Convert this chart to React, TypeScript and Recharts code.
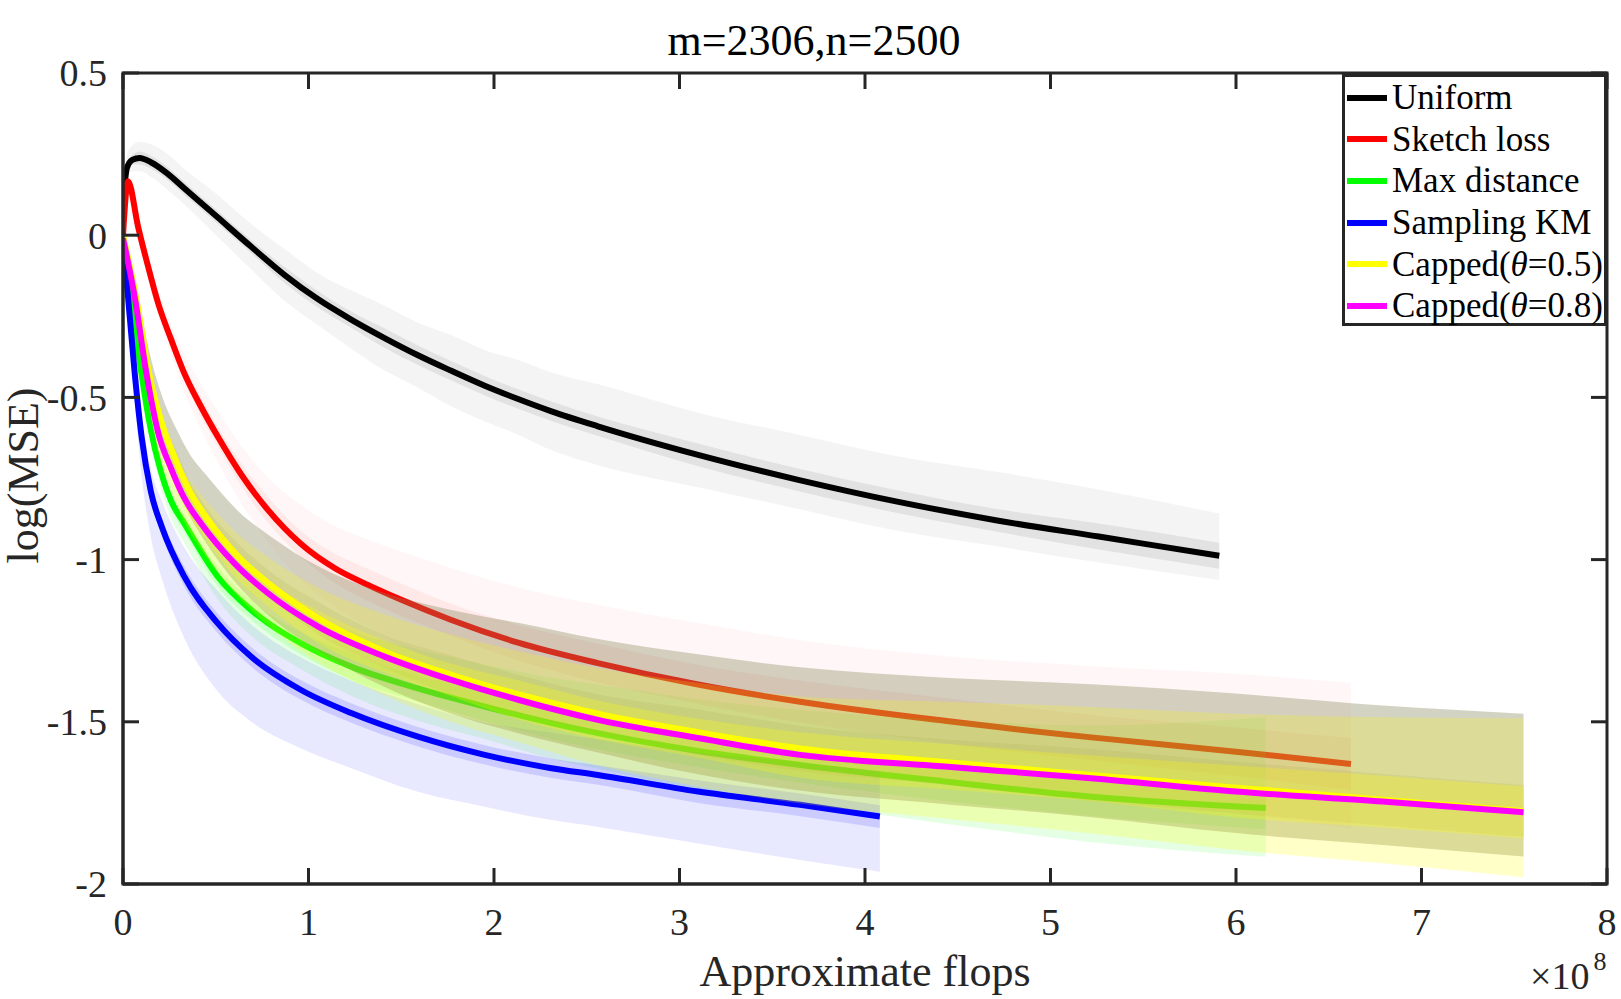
import React from "react";
import { ComposedChart, Line, Area, XAxis, YAxis, ReferenceArea } from "recharts";

const FONT = '"Liberation Serif", "Times New Roman", serif';
const AXIS = "#262626";

// chart box, in pixels
const W = 1621;
const H = 999;
const MARGIN = { top: 73, right: 14, bottom: 55, left: 23 };
const Y_AXIS_W = 100;
const X_AXIS_H = 60;
const PLOT_LEFT = MARGIN.left + Y_AXIS_W;
const PLOT_RIGHT = W - MARGIN.right;
const PLOT_TOP = MARGIN.top;
const PLOT_BOTTOM = H - MARGIN.bottom - X_AXIS_H;
const TICK_LEN = 16;

// x in units of 1e8 flops, y = log(MSE)
const uniformX = [0.01, 0.02, 0.05, 0.09, 0.15, 0.24, 0.33, 0.51, 0.69, 0.87, 1.05, 1.23, 1.41, 1.59, 1.77, 1.95, 2.13, 2.31, 2.56, 3.1, 3.64, 4.18, 4.72, 5.26, 5.91];
const uniformY = [0.16, 0.205, 0.232, 0.238, 0.225, 0.19, 0.145, 0.055, -0.035, -0.122, -0.197, -0.26, -0.317, -0.37, -0.418, -0.464, -0.505, -0.543, -0.589, -0.677, -0.754, -0.822, -0.88, -0.929, -0.988];
const uniformUp = [0.02, 0.04, 0.045, 0.05, 0.055, 0.06, 0.06, 0.07, 0.07, 0.08, 0.08, 0.09, 0.1, 0.1, 0.11, 0.11, 0.12, 0.12, 0.13, 0.13, 0.14, 0.14, 0.15, 0.145, 0.13];
const uniformDn = [0.02, 0.03, 0.035, 0.04, 0.045, 0.05, 0.05, 0.06, 0.07, 0.08, 0.08, 0.09, 0.1, 0.1, 0.11, 0.11, 0.11, 0.12, 0.12, 0.1, 0.09, 0.09, 0.08, 0.08, 0.075];
const uniformIn = [0.01, 0.01, 0.015, 0.02, 0.02, 0.02, 0.02, 0.02, 0.02, 0.025, 0.025, 0.025, 0.03, 0.03, 0.03, 0.03, 0.03, 0.03, 0.03, 0.035, 0.035, 0.035, 0.035, 0.04, 0.04];

const sketchX = [0, 0.027, 0.081, 0.135, 0.189, 0.26, 0.33, 0.42, 0.51, 0.64, 0.78, 0.96, 1.14, 1.32, 1.5, 1.77, 2.13, 2.56, 3.1, 3.65, 4.43, 5.22, 6.0, 6.62];
const sketchY = [0, 0.166, 0.027, -0.096, -0.209, -0.322, -0.425, -0.528, -0.62, -0.74, -0.846, -0.952, -1.026, -1.078, -1.124, -1.186, -1.256, -1.319, -1.385, -1.438, -1.497, -1.548, -1.592, -1.63];
const sketchUp = [0, 0.01, 0.02, 0.03, 0.04, 0.05, 0.06, 0.07, 0.08, 0.09, 0.1, 0.12, 0.13, 0.14, 0.15, 0.16, 0.17, 0.18, 0.19, 0.19, 0.2, 0.22, 0.24, 0.25];
const sketchDn = [0, 0.01, 0.02, 0.03, 0.04, 0.05, 0.06, 0.07, 0.08, 0.09, 0.1, 0.11, 0.12, 0.13, 0.14, 0.15, 0.16, 0.17, 0.17, 0.18, 0.18, 0.19, 0.19, 0.2];
const sketchIn = [0, 0.005, 0.01, 0.015, 0.02, 0.02, 0.025, 0.03, 0.03, 0.035, 0.04, 0.04, 0.045, 0.05, 0.05, 0.05, 0.055, 0.06, 0.06, 0.065, 0.07, 0.07, 0.075, 0.08];

const maxDistX = [0, 0.045, 0.099, 0.15, 0.2, 0.26, 0.33, 0.51, 0.69, 0.96, 1.23, 1.59, 1.95, 2.31, 2.56, 3.1, 3.65, 4.43, 5.22, 6.16];
const maxDistY = [-0.02, -0.19, -0.425, -0.6, -0.72, -0.82, -0.888, -1.052, -1.155, -1.258, -1.33, -1.397, -1.453, -1.504, -1.535, -1.59, -1.633, -1.684, -1.731, -1.766];
const maxDistUp = [0, 0.02, 0.04, 0.05, 0.06, 0.065, 0.07, 0.08, 0.09, 0.1, 0.11, 0.12, 0.13, 0.14, 0.15, 0.16, 0.17, 0.19, 0.22, 0.28];
const maxDistDn = [0, 0.02, 0.03, 0.04, 0.05, 0.055, 0.06, 0.07, 0.08, 0.08, 0.09, 0.1, 0.1, 0.11, 0.11, 0.12, 0.12, 0.13, 0.14, 0.15];
const maxDistIn = [0, 0.01, 0.015, 0.02, 0.02, 0.025, 0.025, 0.03, 0.03, 0.035, 0.04, 0.04, 0.045, 0.05, 0.05, 0.05, 0.055, 0.06, 0.06, 0.065];

const kmX = [0, 0.027, 0.063, 0.1, 0.15, 0.21, 0.33, 0.51, 0.69, 0.96, 1.23, 1.59, 1.95, 2.31, 2.56, 3.1, 3.65, 4.08];
const kmY = [-0.03, -0.19, -0.425, -0.62, -0.79, -0.9, -1.052, -1.196, -1.299, -1.402, -1.473, -1.546, -1.602, -1.643, -1.664, -1.715, -1.756, -1.792];
const kmUp = [0, 0.02, 0.04, 0.06, 0.07, 0.08, 0.09, 0.1, 0.1, 0.1, 0.1, 0.1, 0.1, 0.11, 0.11, 0.12, 0.13, 0.14];
const kmDn = [0, 0.04, 0.08, 0.12, 0.14, 0.16, 0.19, 0.21, 0.2, 0.18, 0.17, 0.17, 0.16, 0.16, 0.16, 0.16, 0.17, 0.17];
const kmIn = [0, 0.01, 0.015, 0.02, 0.02, 0.025, 0.03, 0.03, 0.03, 0.03, 0.03, 0.03, 0.03, 0.03, 0.03, 0.035, 0.035, 0.035];

// θ=0.5 carries the greyish band that reaches highest
const capped5X = [0, 0.07, 0.14, 0.21, 0.29, 0.36, 0.45, 0.62, 0.8, 1.05, 1.41, 1.77, 2.13, 2.56, 3.1, 3.65, 4.43, 5.22, 6.0, 6.79, 7.55];
const capped5Y = [0, -0.19, -0.425, -0.58, -0.7, -0.79, -0.87, -0.99, -1.08, -1.18, -1.283, -1.355, -1.415, -1.475, -1.532, -1.582, -1.624, -1.664, -1.703, -1.74, -1.775];
const capped5Up = [0, 0.04, 0.07, 0.085, 0.1, 0.115, 0.13, 0.14, 0.15, 0.16, 0.18, 0.2, 0.22, 0.23, 0.24, 0.25, 0.26, 0.28, 0.29, 0.29, 0.3];
const capped5Dn = [0, 0.03, 0.05, 0.06, 0.07, 0.075, 0.08, 0.09, 0.1, 0.1, 0.11, 0.12, 0.12, 0.12, 0.13, 0.13, 0.13, 0.13, 0.14, 0.14, 0.14];
const capped5In = [0, 0.01, 0.02, 0.025, 0.03, 0.03, 0.03, 0.04, 0.04, 0.05, 0.05, 0.06, 0.06, 0.06, 0.07, 0.07, 0.07, 0.08, 0.08, 0.08, 0.08];

// θ=0.8 carries the pale yellow band that reaches lowest
const capped8X = [0, 0.063, 0.126, 0.19, 0.26, 0.33, 0.42, 0.6, 0.78, 1.05, 1.41, 1.77, 2.13, 2.56, 3.1, 3.65, 4.43, 5.22, 6.0, 6.79, 7.55];
const capped8Y = [-0.01, -0.19, -0.425, -0.61, -0.72, -0.81, -0.888, -1.011, -1.103, -1.206, -1.299, -1.371, -1.432, -1.494, -1.55, -1.602, -1.638, -1.674, -1.715, -1.746, -1.779];
const capped8Up = [0, 0.03, 0.05, 0.06, 0.07, 0.08, 0.09, 0.1, 0.11, 0.12, 0.13, 0.14, 0.15, 0.16, 0.17, 0.18, 0.2, 0.22, 0.24, 0.26, 0.29];
const capped8Dn = [0, 0.03, 0.05, 0.06, 0.07, 0.075, 0.08, 0.09, 0.1, 0.11, 0.12, 0.13, 0.13, 0.14, 0.15, 0.15, 0.16, 0.17, 0.18, 0.19, 0.2];
const capped8In = [0, 0.01, 0.02, 0.025, 0.03, 0.03, 0.03, 0.04, 0.04, 0.05, 0.05, 0.05, 0.06, 0.06, 0.06, 0.07, 0.07, 0.07, 0.08, 0.08, 0.08];

const xTicks = [0, 1, 2, 3, 4, 5, 6, 7, 8];
const yTicks = [-2, -1.5, -1, -0.5, 0, 0.5];

const toRows = (xs: number[], ys: number[], up: number[], dn: number[], inn: number[]) =>
  xs.map((x, i) => ({
    x,
    y: ys[i],
    outer: [ys[i] - dn[i], ys[i] + up[i]],
    inner: [ys[i] - inn[i], ys[i] + inn[i]],
  }));

// draw order follows the original: band then line, series by series
const series = [
  { name: "Uniform", color: "#000000", band: "#000000", outerOp: 0.045, innerOp: 0.07, rows: toRows(uniformX, uniformY, uniformUp, uniformDn, uniformIn) },
  { name: "Sketch loss", color: "#ff0000", band: "#ff0000", outerOp: 0.03, innerOp: 0.06, rows: toRows(sketchX, sketchY, sketchUp, sketchDn, sketchIn) },
  { name: "Max distance", color: "#00ff00", band: "#00ff00", outerOp: 0.1, innerOp: 0.12, rows: toRows(maxDistX, maxDistY, maxDistUp, maxDistDn, maxDistIn) },
  { name: "Sampling KM", color: "#0000ff", band: "#0000ff", outerOp: 0.09, innerOp: 0.12, rows: toRows(kmX, kmY, kmUp, kmDn, kmIn) },
  { name: "Capped(θ=0.5)", color: "#ffff00", band: "#86845a", outerOp: 0.36, innerOp: 0.15, rows: toRows(capped5X, capped5Y, capped5Up, capped5Dn, capped5In) },
  { name: "Capped(θ=0.8)", color: "#ff00ff", band: "#ffff00", outerOp: 0.22, innerOp: 0.25, rows: toRows(capped8X, capped8Y, capped8Up, capped8Dn, capped8In) },
];

// tick label plus MATLAB-style inward tick marks on both opposite sides
function XTick(props: any) {
  const { x, y, payload } = props;
  return (
    <g>
      <line x1={x} x2={x} y1={PLOT_BOTTOM} y2={PLOT_BOTTOM - TICK_LEN} stroke={AXIS} strokeWidth={3} />
      <line x1={x} x2={x} y1={PLOT_TOP} y2={PLOT_TOP + TICK_LEN} stroke={AXIS} strokeWidth={3} />
      <text x={x} y={y} dy="0.71em" textAnchor="middle" fontSize={38} fontFamily={FONT} fill={AXIS}>
        {payload.value}
      </text>
    </g>
  );
}

function YTick(props: any) {
  const { x, y, payload } = props;
  return (
    <g>
      <line x1={PLOT_LEFT} x2={PLOT_LEFT + TICK_LEN} y1={y} y2={y} stroke={AXIS} strokeWidth={3} />
      <line x1={PLOT_RIGHT - TICK_LEN} x2={PLOT_RIGHT} y1={y} y2={y} stroke={AXIS} strokeWidth={3} />
      <text x={x} y={y} dy="0.355em" textAnchor="end" fontSize={38} fontFamily={FONT} fill={AXIS}>
        {payload.value}
      </text>
    </g>
  );
}

function LegendLabel({ name }: { name: string }) {
  const m = name.match(/^(.*\()θ(=.*)$/);
  if (!m) return <span>{name}</span>;
  return (
    <span>
      {m[1]}
      <i>θ</i>
      {m[2]}
    </span>
  );
}

function YLabel(props: any) {
  const vb = props.viewBox || { x: MARGIN.left, y: PLOT_TOP, width: Y_AXIS_W, height: PLOT_BOTTOM - PLOT_TOP };
  const x = vb.x + 15;
  const y = vb.y + vb.height / 2 - 3;
  return (
    <text
      x={x}
      y={y}
      transform={`rotate(-90 ${x} ${y})`}
      textAnchor="middle"
      fontSize={44}
      fontFamily={FONT}
      fill={AXIS}
    >
      log(MSE)
    </text>
  );
}

export default function App() {
  const frame = { stroke: AXIS, strokeWidth: 3 };

  return (
    <div style={{ position: "absolute", left: 0, top: 0, width: W, height: H, background: "#fff" }}>
      <ComposedChart width={W} height={H} margin={MARGIN}>
        <XAxis
          xAxisId="main"
          dataKey="x"
          type="number"
          domain={[0, 8]}
          ticks={xTicks}
          allowDataOverflow
          height={X_AXIS_H}
          axisLine={frame}
          tickLine={false}
          tickSize={6}
          tickMargin={18}
          tick={<XTick />}
          label={{ value: "Approximate flops", position: "bottom", offset: 11, fontSize: 44, fill: AXIS, fontFamily: FONT }}
        />
        <YAxis
          yAxisId="main"
          type="number"
          domain={[-2, 0.5]}
          ticks={yTicks}
          allowDataOverflow
          width={Y_AXIS_W}
          axisLine={frame}
          tickLine={false}
          tickSize={6}
          tickMargin={10}
          tick={<YTick />}
          label={{ content: <YLabel /> }}
        />

        {series.flatMap((s, i) => [
          <Area
            key={s.name + "-outer"}
            xAxisId="main"
            yAxisId="main"
            data={s.rows}
            dataKey="outer"
            type="monotone"
            stroke="none"
            fill={s.band}
            fillOpacity={s.outerOp}
            dot={false}
            activeDot={false}
            isAnimationActive={false}
            zIndex={110 + i * 10}
          />,
          <Area
            key={s.name + "-inner"}
            xAxisId="main"
            yAxisId="main"
            data={s.rows}
            dataKey="inner"
            type="monotone"
            stroke="none"
            fill={s.band}
            fillOpacity={s.innerOp}
            dot={false}
            activeDot={false}
            isAnimationActive={false}
            zIndex={111 + i * 10}
          />,
          <Line
            key={s.name + "-line"}
            xAxisId="main"
            yAxisId="main"
            data={s.rows}
            dataKey="y"
            type="monotone"
            stroke={s.color}
            strokeWidth={6}
            dot={false}
            activeDot={false}
            isAnimationActive={false}
            zIndex={112 + i * 10}
          />,
        ])}

        <ReferenceArea
          xAxisId="main"
          yAxisId="main"
          x1={0}
          x2={8}
          y1={-2}
          y2={0.5}
          fill="none"
          fillOpacity={0}
          stroke={AXIS}
          strokeWidth={3}
          strokeOpacity={1}
          zIndex={450}
        />
      </ComposedChart>

      <svg width={W} height={H} style={{ position: "absolute", left: 0, top: 0, pointerEvents: "none" }}>
        <text x={814} y={55} textAnchor="middle" fontSize={44} fontFamily={FONT} fill="#000">
          m=2306,n=2500
        </text>
        <text x={1530} y={989} fontSize={38} fontFamily={FONT} fill={AXIS}>
          ×10
          <tspan dx={4} dy={-19} fontSize={26}>
            8
          </tspan>
        </text>
      </svg>

      <div
        style={{
          position: "absolute",
          left: 1342,
          top: 74,
          width: 265,
          height: 252,
          boxSizing: "border-box",
          border: `3px solid ${AXIS}`,
          background: "#fff",
          fontFamily: FONT,
          fontSize: 35,
          color: "#000",
        }}
      >
        {series.map((s) => (
          <div key={s.name} style={{ display: "flex", alignItems: "center", height: 41.6, whiteSpace: "nowrap" }}>
            <span style={{ display: "inline-block", width: 40, height: 6, marginLeft: 2, background: s.color }} />
            <span style={{ marginLeft: 5, lineHeight: 1 }}>
              <LegendLabel name={s.name} />
            </span>
          </div>
        ))}
      </div>
    </div>
  );
}
